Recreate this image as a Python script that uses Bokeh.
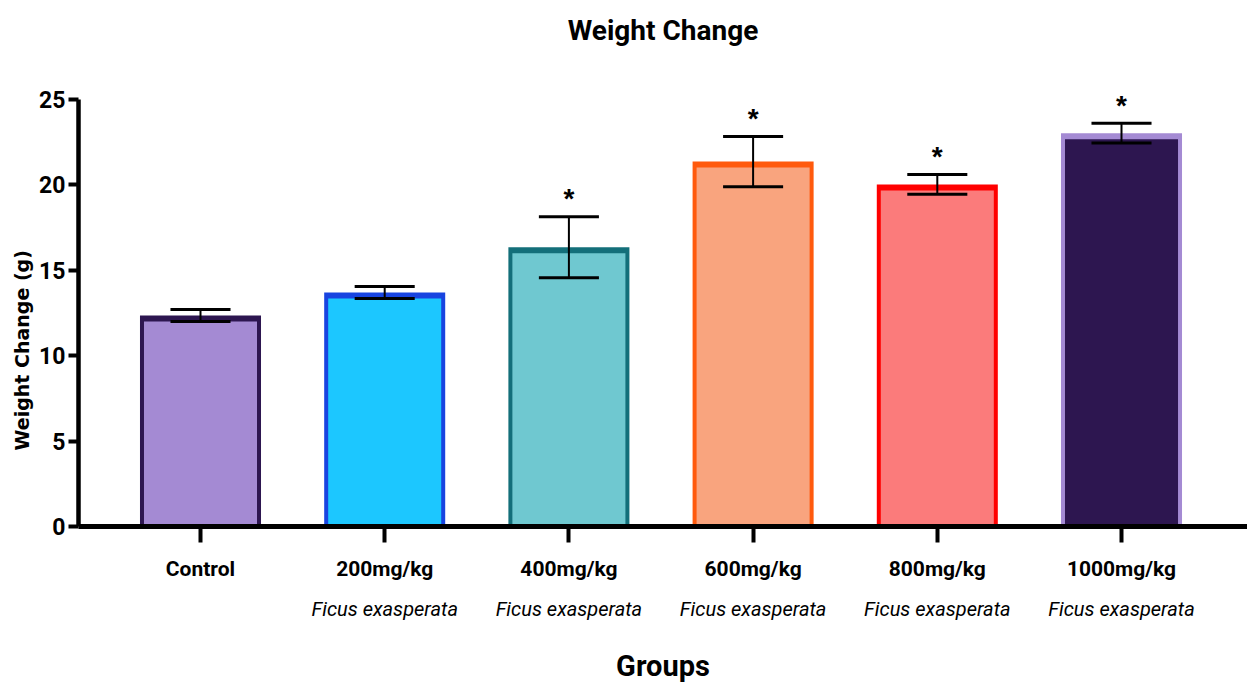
from bokeh.plotting import figure
from bokeh.models import LinearAxis, FixedTicker, Range1d, ColumnDataSource, Title
from bokeh.embed import file_html
from bokeh.resources import INLINE
from bokeh.core.properties import value

# ---------------- data ----------------
title_text = "Weight Change"
y_title = "Weight Change (g)"
x_title = "Groups"
groups = ["Control", "200mg/kg", "400mg/kg", "600mg/kg", "800mg/kg", "1000mg/kg"]
species = ["", "Ficus exasperata", "Ficus exasperata", "Ficus exasperata",
           "Ficus exasperata", "Ficus exasperata"]
means = [12.35, 13.70, 16.35, 21.37, 20.03, 23.03]
sems = [0.35, 0.35, 1.78, 1.47, 0.58, 0.58]
signif = ["", "", "*", "*", "*", "*"]
fill_colors = ["#A48AD3", "#1CC7FF", "#6FC8D0", "#F9A47E", "#FB7B7B", "#2D1650"]
edge_colors = ["#2D1650", "#1844E0", "#136F7A", "#FF5A0D", "#FF0000", "#A48AD3"]
y_ticks = [0, 5, 10, 15, 20, 25]

# ---------------- style ----------------
FONT = "Roboto"
W, H = 1247, 689
MB_LEFT, MB_RIGHT, MB_TOP, MB_BOTTOM = 78, 0, 56, 163
X0, X1 = -0.6623, 5.684
Y0, Y1 = 0, 27.52
BAR_W = 0.657
CAP_HALF = 0.163
SIDE_PX, TOP_PX = 4, 6

frame_w = W - MB_LEFT - MB_RIGHT
frame_h = H - MB_TOP - MB_BOTTOM
ppx = frame_w / (X1 - X0)
ppy = frame_h / (Y1 - Y0)

xs = list(range(len(groups)))
src = ColumnDataSource(dict(
    x=xs,
    mean=means,
    inner_top=[m - TOP_PX / ppy for m in means],
    hi=[m + s for m, s in zip(means, sems)],
    lo=[m - s for m, s in zip(means, sems)],
    cl=[x - CAP_HALF for x in xs],
    cr=[x + CAP_HALF for x in xs],
    fill=fill_colors,
    edge=edge_colors,
    sig=signif,
))

p = figure(width=W, height=H, output_backend="svg", toolbar_location=None,
           x_range=Range1d(X0, X1), y_range=Range1d(Y0, Y1),
           min_border_left=MB_LEFT, min_border_right=MB_RIGHT,
           min_border_top=MB_TOP, min_border_bottom=MB_BOTTOM,
           title=title_text,
           background_fill_color="white", border_fill_color="white")
p.outline_line_color = None
p.grid.visible = False

p.title.align = "center"
p.title.text_font = FONT
p.title.text_font_size = "28px"
p.title.text_font_style = "bold"
p.title.text_color = "black"
p.title.standoff = 20

# bars: outer (edge colour) and inner (fill colour)
p.vbar(x="x", top="mean", bottom=0, width=BAR_W, fill_color="edge",
       line_color=None, source=src)
p.vbar(x="x", top="inner_top", bottom=0, width=BAR_W - 2 * SIDE_PX / ppx,
       fill_color="fill", line_color=None, source=src)

# error bars
p.segment(x0="x", y0="lo", x1="x", y1="hi", line_color="black", line_width=2, source=src)
p.segment(x0="cl", y0="hi", x1="cr", y1="hi", line_color="black", line_width=3, source=src)
p.segment(x0="cl", y0="lo", x1="cr", y1="lo", line_color="black", line_width=3, source=src)

# significance stars
p.text(x="x", y="hi", text="sig", source=src, text_align="center",
       text_baseline="alphabetic", y_offset=-18,
       text_font=value("Liberation Sans"), text_font_size="28px",
       text_font_style="bold", text_color="black")

# y axis
ya = p.yaxis[0]
ya.ticker = FixedTicker(ticks=y_ticks)
ya.bounds = (0, 25)
ya.axis_line_width = 4.5
ya.axis_line_color = "black"
ya.major_tick_line_width = 4
ya.major_tick_out = 10
ya.major_tick_in = 0
ya.minor_tick_line_color = None
ya.major_label_text_font = FONT
ya.major_label_text_font_size = "23px"
ya.major_label_text_font_style = "bold"
ya.major_label_text_color = "black"
ya.major_label_standoff = 3

# y axis title as a side title (so it can sit off-centre like the original)
ytitle = Title(text=y_title, align="left", offset=76, standoff=8,
               text_font="DejaVu Sans", text_font_size="19px",
               text_font_style="bold", text_color="black")
p.add_layout(ytitle, "left")

# x axis (dose labels)
xa = p.xaxis[0]
xa.ticker = FixedTicker(ticks=xs)
xa.major_label_overrides = {i: g for i, g in zip(xs, groups)}
xa.axis_line_width = 5
xa.axis_line_color = "black"
xa.major_tick_line_width = 4
xa.major_tick_out = 16
xa.major_tick_in = 0
xa.minor_tick_line_color = None
xa.major_label_text_font = FONT
xa.major_label_text_font_size = "21px"
xa.major_label_text_font_style = "bold"
xa.major_label_text_color = "black"
xa.major_label_standoff = 14

# second x axis (species labels + axis title)
xa2 = LinearAxis(ticker=FixedTicker(ticks=xs),
                 major_label_overrides={i: s for i, s in zip(xs, species)})
xa2.axis_line_color = None
xa2.major_tick_line_color = None
xa2.minor_tick_line_color = None
xa2.major_tick_out = 0
xa2.major_label_standoff = 13
xa2.major_label_text_font = FONT
xa2.major_label_text_font_size = "20px"
xa2.major_label_text_font_style = "italic"
xa2.major_label_text_color = "black"
xa2.axis_label = x_title
xa2.axis_label_text_font = FONT
xa2.axis_label_text_font_size = "29px"
xa2.axis_label_text_font_style = "bold"
xa2.axis_label_text_color = "black"
xa2.axis_label_standoff = 25
p.add_layout(xa2, "below")

open("out.html", "w").write(file_html(p, INLINE))
